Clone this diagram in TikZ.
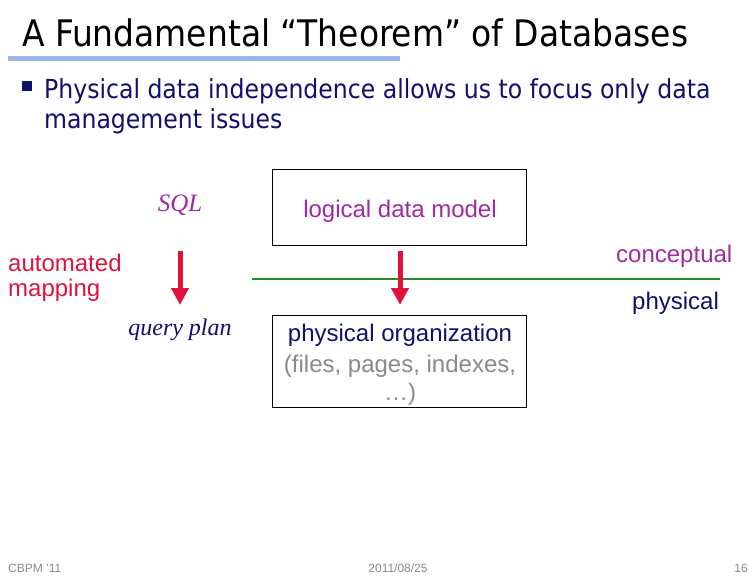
\documentclass[tikz,border=0pt]{standalone}
\usepackage{fontspec}
\setmainfont{Liberation Sans}
\newfontfamily\titlefont{DejaVu Sans Condensed}
\newfontfamily\bodyfont{DejaVu Sans Condensed}
\newfontfamily\serifit{Liberation Serif}
\usetikzlibrary{arrows.meta}
\definecolor{navy}{HTML}{10106E}
\definecolor{purp}{HTML}{A02AA0}
\definecolor{crim}{HTML}{DC143C}
\definecolor{gline}{HTML}{2A8A2A}
\definecolor{rule}{HTML}{9DB4E6}
\definecolor{grayt}{HTML}{8A8A8A}
\begin{document}
\begin{tikzpicture}[x=1pt,y=-1pt,
  txt/.style={inner sep=0pt, anchor=base west},
  ctxt/.style={inner sep=0pt, anchor=base},
  boxstyle/.style={draw=black, line width=1pt},
  bigarrow/.style={draw=crim, line width=5pt, -{Triangle[width=17pt,length=17pt]}},
  lbl/.style={font=\fontsize{24}{28}\selectfont},
  foot/.style={inner sep=0pt, font=\fontsize{12}{14}\selectfont, text=grayt}]
\useasboundingbox (0,0) rectangle (756,576);
\fill[white] (0,0) rectangle (756,576);
% title
\node[txt, font=\titlefont\fontsize{36.6}{40}\selectfont] (title) at (22,46) {A Fundamental “Theorem” of Databases};
\fill[rule] (8,56) rectangle (400,61);
% bullet
\fill[navy] (22,81) rectangle (32,91);
\node[txt, text=navy, font=\bodyfont\fontsize{26.2}{30}\selectfont] (b1) at (44,98) {Physical data independence allows us to focus only data};
\node[txt, text=navy, font=\bodyfont\fontsize{26.2}{30}\selectfont] (b2) at (44,128) {management issues};
% boxes
\draw[boxstyle] (272,169) rectangle (526,245);
\coordinate (box1) at (400,245);
\node[ctxt, text=purp, lbl] (ldm) at (400,217) {logical data model};
\draw[boxstyle] (272,315) rectangle (526,407);
\coordinate (box2) at (400,315);
\node[ctxt, text=navy, lbl] (po) at (400,341) {physical organization};
\node[ctxt, text=grayt, lbl] (po2) at (400,372) {(files, pages, indexes,};
\node[ctxt, text=grayt, lbl] (po3) at (400,400) {…)};
% green divider
\coordinate (gl) at (252,279);
\coordinate (gr) at (720,279);
\draw[gline, line width=1.3pt] (gl) -- (gr);
\node[txt, text=purp, lbl] (conc) at (616,262) {conceptual};
\node[txt, text=navy, lbl] (phys) at (632,309) {physical};
% left side
\node[txt, text=crim, lbl] (auto1) at (8,271) {automated};
\node[txt, text=crim, lbl] (auto2) at (8,296) {mapping};
\node[ctxt, text=purp, font=\serifit\itshape\fontsize{25}{28}\selectfont] (sql) at (180,211) {SQL};
\node[ctxt, text=navy, font=\serifit\itshape\fontsize{24}{28}\selectfont] (qp) at (180,335) {query plan};
% arrows
\coordinate (la) at (180,251);
\coordinate (lb) at (180,305);
\draw[bigarrow] (la) -- (lb);
\coordinate (ra) at (400,251);
\coordinate (rb) at (400,305);
\draw[bigarrow] (ra) -- (rb);
% footer
\node[foot, anchor=base west] (f1) at (8,572) {CBPM '11};
\node[foot, anchor=base] (f2) at (398,572) {2011/08/25};
\node[foot, anchor=base east] (f3) at (748,572) {16};
\end{tikzpicture}
\end{document}
